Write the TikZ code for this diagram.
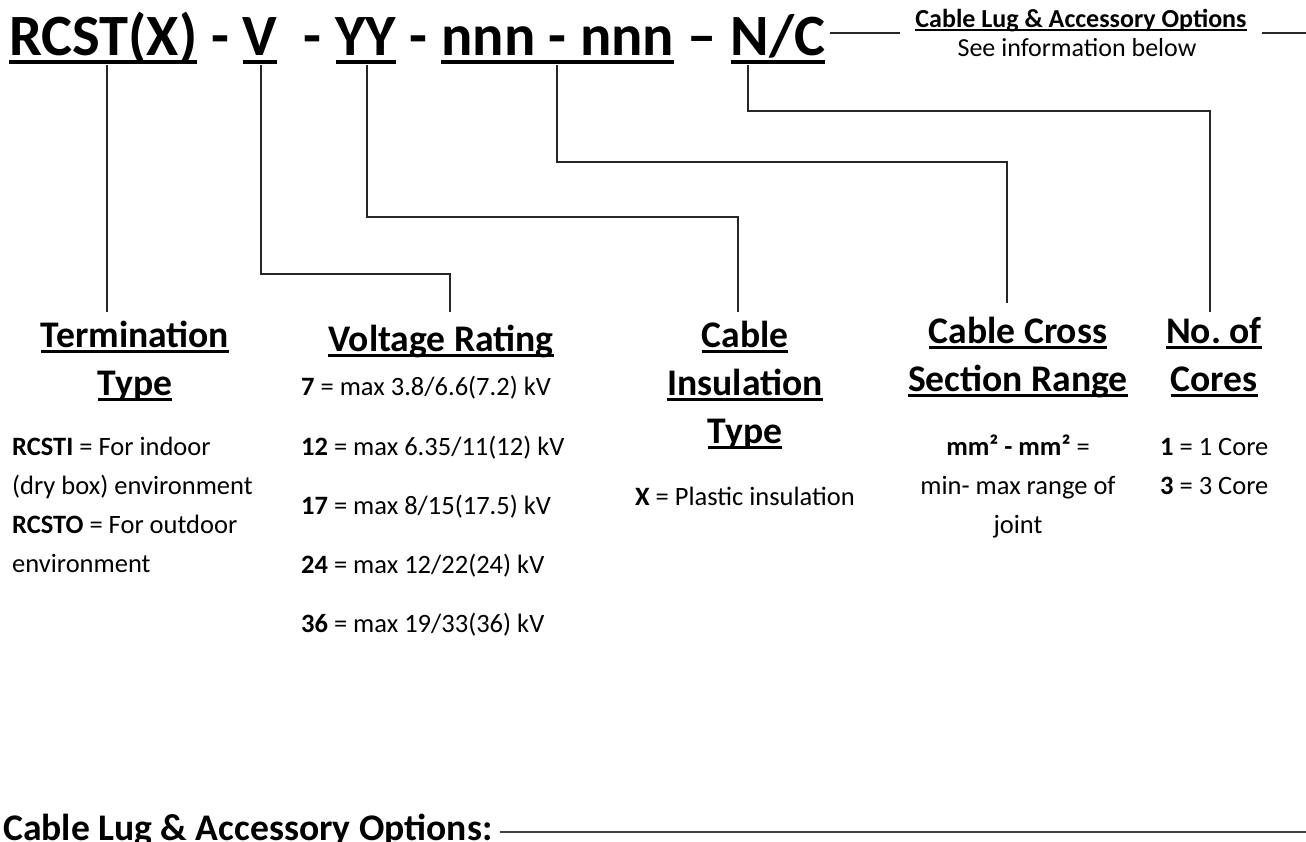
\documentclass[tikz,border=0pt]{standalone}
\usepackage{fontspec}
\setmainfont{Carlito}
\newcommand\myul[1]{\setbox0\hbox{#1}\rlap{\rule[-0.15em]{\wd0}{0.062em}}\box0}
\begin{document}
\begin{tikzpicture}[x=1pt,y=-1pt,
  ttl/.style={inner sep=0pt,anchor=base west,font=\fontsize{58.5}{70}\selectfont\bfseries},
  head/.style={inner sep=0pt,anchor=base,align=center,font=\fontsize{37.6}{48}\selectfont\bfseries},
  body/.style={inner sep=0pt,anchor=base west,align=left,font=\fontsize{26.5}{33}\selectfont},
  conn/.style={line width=1.2pt,draw=black!85},
]
\useasboundingbox (0,0) rectangle (1306,841);
% title
\node[ttl] (rcst) at (9,55) {\myul{RCST(X)}};
\node[ttl] (s1) at (rcst.base east) {\ -\ \null};
\node[ttl] (v) at (s1.base east) {\myul{V}};
\node[ttl] (s2) at (v.base east) {\ \ -\ \null};
\node[ttl] (yy) at (s2.base east) {\myul{YY}};
\node[ttl] (s3) at (yy.base east) {\ -\ \null};
\node[ttl] (nnn) at (s3.base east) {\myul{nnn - nnn}};
\node[ttl] (s4) at (nnn.base east) {\ –\ \null};
\node[ttl] (nc) at (s4.base east) {\myul{N/C}};
% top right
\node[inner sep=0pt,anchor=base,font=\fontsize{26}{30}\selectfont\bfseries] (lug) at (1081,27) {\myul{Cable Lug \& Accessory Options}};
\node[inner sep=0pt,anchor=base,font=\fontsize{26}{30}\selectfont] (see) at (1077,56) {See information below};
\coordinate (l1a) at (830,33); \coordinate (l1b) at (900,33);
\coordinate (l2a) at (1262,33); \coordinate (l2b) at (1306,33);
\draw[conn] (l1a) -- (l1b);
\draw[conn] (l2a) -- (l2b);
% headings (base = last line)
\node[head] (hterm) at (135,395) {\myul{Termination}\\\myul{Type}};
\node[head] (hvolt) at (441,351) {\myul{Voltage Rating}};
\node[head] (hins) at (745,443) {\myul{Cable}\\\myul{Insulation}\\\myul{Type}};
\node[head] (hcross) at (1018,391) {\myul{Cable Cross}\\\myul{Section Range}};
\node[head] (hcores) at (1214,391) {\myul{No.\ of}\\\myul{Cores}};
% connectors
\coordinate (a1) at (107,65); \coordinate (a2) at (107,312);
\coordinate (b1) at (261,65); \coordinate (b2) at (450,274); \coordinate (b3) at (450,312);
\coordinate (c1) at (367,65); \coordinate (c2) at (738,217); \coordinate (c3) at (738,312);
\coordinate (d1) at (557,65); \coordinate (d2) at (1007,162); \coordinate (d3) at (1007,303);
\coordinate (e1) at (748,65); \coordinate (e2) at (1210,111); \coordinate (e3) at (1210,312);
\draw[conn] (a1) -- (a2);
\draw[conn] (b1) |- (b2) -- (b3);
\draw[conn] (c1) |- (c2) -- (c3);
\draw[conn] (d1) |- (d2) -- (d3);
\draw[conn] (e1) |- (e2) -- (e3);
% termination body
\node[body] (bterm1) at (12,455) {\textbf{RCSTI} = For indoor};
\node[body] (bterm2) at (12,494) {(dry box) environment};
\node[body] (bterm3) at (12,533) {\textbf{RCSTO} = For outdoor};
\node[body] (bterm4) at (12,572) {environment};
% voltage body
\node[body] (bv1) at (301,395) {\textbf{7} = max 3.8/6.6(7.2) kV};
\node[body] (bv2) at (301,455) {\textbf{12} = max 6.35/11(12) kV};
\node[body] (bv3) at (301,514) {\textbf{17} = max 8/15(17.5) kV};
\node[body] (bv4) at (301,573) {\textbf{24} = max 12/22(24) kV};
\node[body] (bv5) at (301,632) {\textbf{36} = max 19/33(36) kV};
% insulation body
\node[body,anchor=base] (bins) at (745,505) {\textbf{X} = Plastic insulation};
% cross section body
\node[body,anchor=base] (bc1) at (1018,455) {\textbf{mm² - mm²} =};
\node[body,anchor=base] (bc2) at (1018,494) {min- max range of};
\node[body,anchor=base] (bc3) at (1018,533) {joint};
% cores body
\node[body] (bn1) at (1160,455) {\textbf{1} = 1 Core};
\node[body] (bn2) at (1160,494) {\textbf{3} = 3 Core};
% bottom
\node[inner sep=0pt,anchor=base west,font=\fontsize{37.6}{44}\selectfont\bfseries] (opt) at (3,840) {Cable Lug \& Accessory Options:};
\coordinate (o1) at (500,832); \coordinate (o2) at (1306,832);
\draw[line width=1.8pt,draw=black!75] (o1) -- (o2);
\end{tikzpicture}
\end{document}
